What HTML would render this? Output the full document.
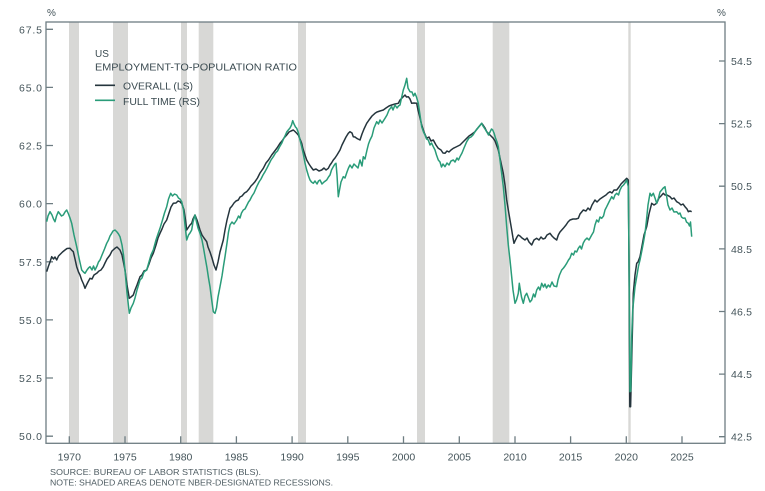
<!DOCTYPE html>
<html><head><meta charset="utf-8"><style>
html,body{margin:0;padding:0;background:#fff;}
svg{display:block;font-family:"Liberation Sans",sans-serif;}
</style></head><body>
<svg width="765" height="491" viewBox="0 0 765 491" xmlns="http://www.w3.org/2000/svg">
<g fill="#d8d8d6">
<rect x="69" y="22" width="10" height="421"/>
<rect x="113" y="22" width="15" height="421"/>
<rect x="181" y="22" width="6" height="421"/>
<rect x="198.7" y="22" width="14.6" height="421"/>
<rect x="298" y="22" width="8" height="421"/>
<rect x="417" y="22" width="8" height="421"/>
<rect x="492.7" y="22" width="16.6" height="421"/>
<rect x="628.3" y="22" width="2.4" height="421"/>
</g>
<g stroke="#6e7d82" stroke-width="1.3" fill="none">
<rect x="46" y="22" width="679" height="421.3"/>
<path d="M46 29.3h7M46 87.4h7M46 145.5h7M46 203.6h7M46 261.8h7M46 319.9h7M46 378h7M46 436.2h7"/>
<path d="M725 61h-6M725 123.6h-6M725 186.2h-6M725 248.9h-6M725 311.5h-6M725 374.1h-6M725 436.7h-6"/>
<path d="M69.3 443.3v-7M125 443.3v-7M180.7 443.3v-7M236.4 443.3v-7M292.1 443.3v-7M347.8 443.3v-7M403.5 443.3v-7M459.3 443.3v-7M515 443.3v-7M570.6 443.3v-7M626.3 443.3v-7M682 443.3v-7"/>
</g>
<polyline fill="none" stroke="#25353d" stroke-width="1.5" stroke-linejoin="round" points="46.7,271.7 48.5,266 50,262 51.7,256.7 53.5,259 55,257 56.7,260 58.5,256 60.5,254 62.5,252 65,250 67,248.5 70,248.3 71.5,250 73.3,251.7 75,259 76.7,266.7 78.5,272 80,275 81.7,280 83.5,284 85,288.3 86.5,285 88,282 90,278.3 92,279 94,275 96.7,273.3 99,271 101,270 103.3,266.7 105,263 107,259 110,255 112,251 115,248.3 117,247 120,250 122,255 125,270 127,285 129.3,298.3 131,297 133.3,295 135,290 137,285 140,276.7 142,275 144,271 146.7,270 149,264 151,258 153.3,253.3 156,245 158,238 160,233.3 162,229 164,224 166.7,220 169,213 171,207 173.3,203.3 176,203 178,201 180,201.7 182,204 184,210 185.5,220 186.7,230 188,228 190,225 191.7,223.3 193,219 195,215 197,220 200,230 202,235 204,238 206.7,241.7 208,247 210,252 212,258 214,265 216,270 218,262 220,252 223.3,240 225,230 227,220 230,208.3 232,206 234,203 236,201 238.3,200 240,197 242,196 244.5,193 246.7,191.7 249,189 251,186 253,184 255,181.7 257.5,178 260,173 263.3,168.3 266,163 268.5,160 271.7,155 274,152 277,148 280,143.3 282,141 284,138 286.7,135 289,132 291,131 293.3,130 295,131.5 296.5,133 298.3,135 300,139 301.7,143.3 303,149 305,155 306.7,160 309,164 311,167 313.3,170 316,169 319,171 321.7,170 324,168 326,170 328.3,168.3 330,165 331.5,163 333.3,160 335,158 337,155 340,150 342,145 344,141 346,137 348.3,133.3 350,131.7 352,133 353.3,136.7 355,137 356.7,138.3 358,139 360,140 362,134 364,129 366.7,123.3 369,120 372,116 375,113.3 377,112 380,111 383.3,110 386,108 389,106 391.7,105 395,104 398.3,103.3 400,100 402,98 405,95 406.5,97 408.3,96.7 410,99 411.7,103.3 414,103 416.7,103.3 418,110 420,118 421.7,125 424,132 426.7,138.3 429,137 431,141 433.3,140 436,145 438.3,148.3 441,150 443,153 445,153.3 447,151 449,152 451,150 453.3,148.3 456,147 458,146 460,145 462,143 464,141 466.7,138.3 469,136 472,134 475,131.7 477,129 479.5,126 481.7,123.3 483,125 485,128 486.7,131.7 489,134 491,136 493.3,138.3 495,141 496.5,145 498.3,150 500,158 501.5,165 503.3,173.3 505,185 506.7,200 508.3,210 510,220 511.7,230 513,238 514,243.3 515.5,240 517,237 518.3,235 520,236 522,238 525,240 527,238 529,242 531.7,245 534,240 536.7,238.3 539,240 541,237 543,239 545,238.3 547,235 550,233.3 552,236 554,238 556.7,240 558.3,235 560,232 563.3,228.3 566,225 568,222 570,220 573,219 576,219 578.3,218.3 580,214 583.3,210 586,211 588,208 590,210 592,205 595,200 597,202 600,199 603.3,196.7 606,195 608,193 610,191.7 612,193 614,190 616.7,190 619,187 621,184 623.3,181.7 625,180 626.7,178.3 628.3,180 629,260 629.8,406.7 630.6,406.7 631.7,360 633.3,293.3 635,275 636.7,263.3 638,262 640,256.7 642,246 644,235 646.7,226.7 649,214 651.7,203.3 654,205 656.7,203.3 659,198 661,196 663.3,193.3 665,195 667,195 670,196.7 672,199 674,198 676.7,201.7 679,203 681,205 683,204 685,206.7 687,209 688.3,211.7 690,211 691.7,211.7"/>
<polyline fill="none" stroke="#2a9c79" stroke-width="1.5" stroke-linejoin="round" points="46.7,221.7 48,216 50,211.7 52,215 53.5,219 55,221.7 56.5,216 58.3,211.7 60,214 61.5,216 63.3,215 65,212 66.7,210 68.5,214 70,218 71.7,223.3 74,235 76.7,246.7 79,258 81.7,270 83.5,272 85,273.3 87,270 88.5,268 90,266.7 92,270 93.5,266 95,270 97,266 98.5,262 100,260 102,255 104.5,249 106.7,243.3 108.5,240 110,236 111.7,233.3 113,231 115,230 117,232 118.5,234 120,236.7 122,245 123.5,255 125,270 127,293 129.3,313.3 131,308 133.3,303.3 135,298 137,290 140,280 142,278 144,272 146.7,270 149,262 151,255 153.3,250 156,240 158,234 160,228.3 162.5,220 164.5,213 166.7,206.7 168.5,199 170.7,193.3 172.5,196 174.5,194 176.7,195 178.5,198 180,199 181.7,201.7 183.5,210 185,225 186.7,240 188.5,235 190,233 191.7,230 193,222 195,215 196.5,222 198,228 200,233.3 202,240 203.5,248 205,256.7 207,268 208.5,278 210,286.7 211.7,300 213.3,311.7 215,313.3 216.5,308 218,297 220,286.7 222,276 223.5,266 225,256.7 227,243 228.5,232 230,225 232,222 234,224 236.7,220 238.5,216 240,218 241.5,213 243.3,210 245,209 247,205 248.5,202 250,200 252,196 254,193 256.7,186.7 259,182 261,179 263,175 265,171.7 267,168 269,164 271,160 273.3,156.7 275.5,153 277.5,151 279.5,147 281.7,143.3 283.5,139 285,136 286.7,132 288.3,130 290,128 291.5,125 292.7,120.7 294,124 295.5,127 296.7,128.3 298.5,133 300,140 301.7,146.7 303.5,155 305,163 306.7,170 308.5,176 310,180 311.5,182 313.3,183.3 315,181 317,184 318.5,181 320,180 322,184 324,182 326.7,180 328.5,177 330,175 331.5,170 333.3,166.7 335,164 336,163.3 337,175 338.3,196.7 339.5,190 341,182 343.3,176.7 345,178 347,172 348.5,168 350,165 352,168 354,164 356,166 358,168 360,160 362,166 363.3,156.7 365,159 367,150 368.5,144 370,140 372,136 374,128 376.7,121.7 378.5,124 380,120 382,123 385,118.3 387,115 389,110 391.7,106.7 393,110 395,105 397,108 398.5,106 400,105 401.5,98 403.3,90 405,85 406.7,78.3 408,88 410,91.7 412,92 413.5,96 415,93.3 416.5,97 418.3,103.3 420,115 421.7,126.7 423.5,132 425,135 426.5,139 428.3,140 430,145 431.5,143 433.3,146.7 435,150 436.5,155 438.3,160 440,162 441.5,167 443,164 445,166.7 447,163 449,165 451,161 453.3,160 455,162 457,158 458.5,160 460,156.7 462,153 464,148 466.7,141.7 469,138 471,137 473,135 475,131.7 477,129 479.5,126 481.7,123.3 483,126 485,129 486.7,131.7 488.5,135 490,132 491.5,129 492.7,130 494,133 495.5,138 497,142 498.3,146.7 500,160 501.5,172 503.3,186.7 505,205 506.7,226.7 508.3,245 510,260 511.5,275 513,290 515,303.3 516.5,300 518.3,293.3 519.3,283.3 520,288 521.5,297 523.3,303.3 525,296 526.7,293.3 528.5,298 530,302 531.7,300 533.5,294 535,297 536.7,290 538.5,287 540,290 541.7,283.3 543.5,287 545,284 546.5,288 548.3,285 550,287 552,282 554,286 556.7,286.7 558,280 559.5,275 561.7,270 563.5,268 565,266 566.7,263.3 568.5,260 570,258 571.7,253.3 573.5,255 575,251 576.7,252 578.3,248.3 580,246 581.5,249 583.3,243 585,240 587,238 589,240 591.7,235 593.5,232 595,225 596.7,220 598.5,222 600,217 601.7,218.3 603.5,216 605,210 606.7,206.7 608.5,203 610,200 611.7,196.7 613.5,199 615,195 616.7,193.3 618.5,195 620,190 621.7,186.7 623.5,185 625,183 626.7,180 628.3,186.7 629.3,293.3 630,391.7 630.8,391 631.7,336.7 632.7,310 635,286.7 637,275 638.5,266 640,260 642,250 643.5,242 645,233.3 646.5,220 648,205 650,193.3 651.5,196 653.3,193.3 655,198 656.7,203.3 658.5,198 660,192 661.7,190 663.3,188 665,186.7 666.7,196.7 668,205 670,210 672,208 674,212 676.7,211.7 678.5,214 680,213 681.5,217 683.3,218.3 685,218 686.5,222 688.3,223.3 689.5,226 690.5,222 691.7,236.7"/>
<g fill="#44545a" font-size="10.5">
<text x="47" y="16" font-size="10">%</text>
<text x="717" y="16" font-size="10">%</text>
<text x="19" y="33.3" textLength="23">67.5</text>
<text x="19" y="91.4" textLength="23">65.0</text>
<text x="19" y="149.5" textLength="23">62.5</text>
<text x="19" y="207.6" textLength="23">60.0</text>
<text x="19" y="265.8" textLength="23">57.5</text>
<text x="19" y="323.9" textLength="23">55.0</text>
<text x="19" y="382" textLength="23">52.5</text>
<text x="19" y="440.2" textLength="23">50.0</text>
<text x="731" y="65" textLength="21">54.5</text>
<text x="731" y="127.6" textLength="21">52.5</text>
<text x="731" y="190.2" textLength="21">50.5</text>
<text x="731" y="252.9" textLength="21">48.5</text>
<text x="731" y="315.5" textLength="21">46.5</text>
<text x="731" y="378.1" textLength="21">44.5</text>
<text x="731" y="440.7" textLength="21">42.5</text>
<g text-anchor="middle">
<text x="69.3" y="460.5">1970</text>
<text x="125" y="460.5">1975</text>
<text x="180.7" y="460.5">1980</text>
<text x="236.4" y="460.5">1985</text>
<text x="292.1" y="460.5">1990</text>
<text x="347.8" y="460.5">1995</text>
<text x="403.5" y="460.5">2000</text>
<text x="459.3" y="460.5">2005</text>
<text x="515" y="460.5">2010</text>
<text x="570.6" y="460.5">2015</text>
<text x="626.3" y="460.5">2020</text>
<text x="682" y="460.5">2025</text>
</g>
</g>
<g fill="#3a4a50" font-size="10">
<text x="95" y="57">US</text>
<text x="95" y="70.3" textLength="202" lengthAdjust="spacingAndGlyphs">EMPLOYMENT-TO-POPULATION RATIO</text>
<text x="123" y="89.3" textLength="70" lengthAdjust="spacingAndGlyphs">OVERALL (LS)</text>
<text x="123" y="105" textLength="77" lengthAdjust="spacingAndGlyphs">FULL TIME (RS)</text>
</g>
<line x1="95" y1="85.3" x2="115" y2="85.3" stroke="#25353d" stroke-width="1.6"/>
<line x1="95" y1="100.3" x2="115" y2="100.3" stroke="#2a9c79" stroke-width="1.6"/>
<g fill="#4e5c62" font-size="8.5">
<text x="50" y="475" textLength="211" lengthAdjust="spacingAndGlyphs">SOURCE: BUREAU OF LABOR STATISTICS (BLS).</text>
<text x="50" y="485.3" textLength="283" lengthAdjust="spacingAndGlyphs">NOTE: SHADED AREAS DENOTE NBER-DESIGNATED RECESSIONS.</text>
</g>
</svg>
</body></html>
